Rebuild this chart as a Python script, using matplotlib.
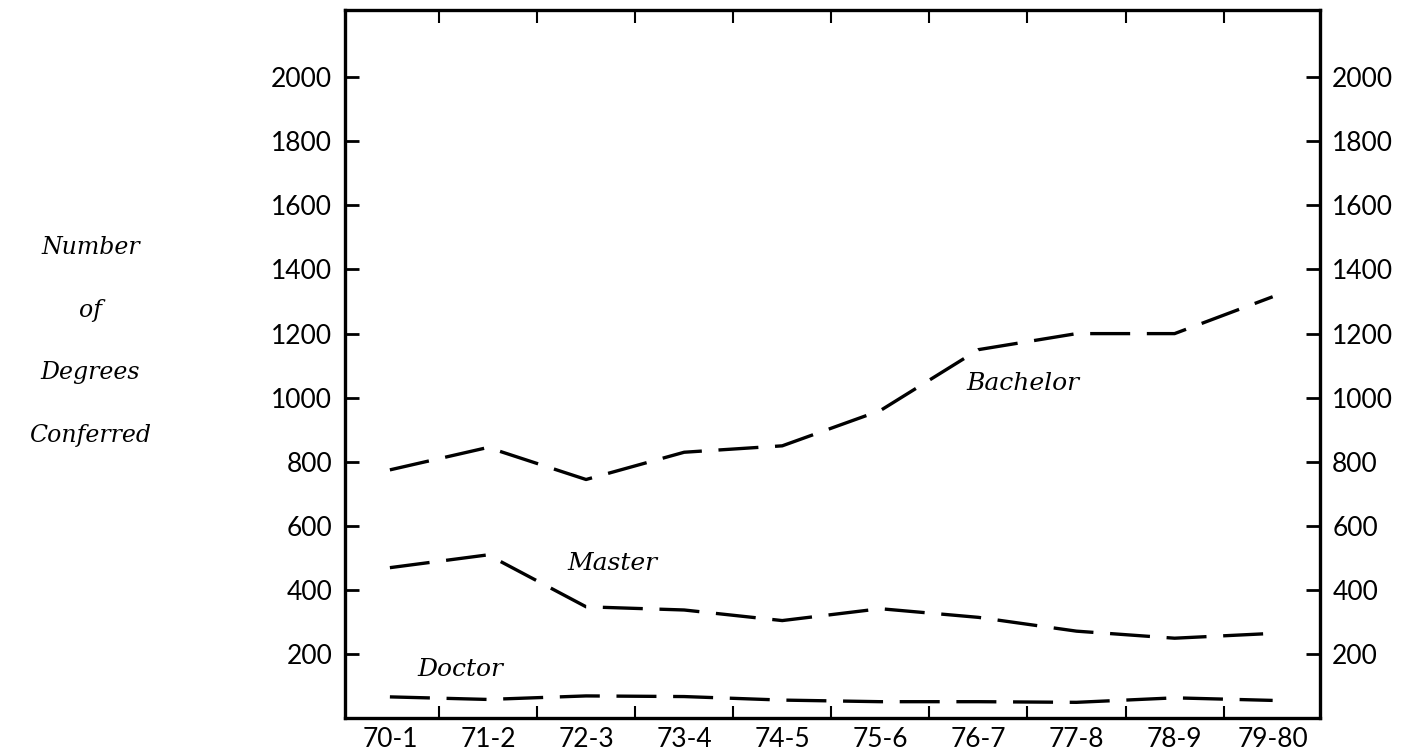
import numpy as np
import matplotlib.pyplot as plt

# 学位授与数 (読み取り値)
years = ['70-1', '71-2', '72-3', '73-4', '74-5', '75-6', '76-7', '77-8', '78-9', '79-80']
bachelor = [775, 845, 745, 830, 850, 960, 1150, 1200, 1200, 1315]
master = [470, 510, 348, 338, 305, 342, 315, 272, 250, 265]
doctor = [67, 59, 70, 68, 57, 52, 52, 50, 64, 56]
yticks = [200, 400, 600, 800, 1000, 1200, 1400, 1600, 1800, 2000]

fig = plt.figure(figsize=(14.13, 7.53), dpi=100)
ax = fig.add_axes([0.244, 0.046, 0.690, 0.941])
x = np.arange(len(years))

for vals in [bachelor, master, doctor]:
    ax.plot(x, vals, color='black', lw=2.4, dashes=(12, 5), solid_capstyle='butt')

ax.set_xlim(-0.46, 9.48)
ax.set_ylim(0, 2210)

for s in ax.spines.values():
    s.set_linewidth(2.4)

tickfont = {'family': 'Lato', 'size': 19}
ax.set_xticks(x)
ax.set_xticklabels(years, fontdict=tickfont)
ax.set_xticks(x[:-1] + 0.5, minor=True)
ax.tick_params(axis='x', which='major', length=0, pad=6)
ax.tick_params(axis='x', which='minor', direction='in', length=9, width=1.5, top=True, bottom=True)

ax.set_yticks(yticks)
ax.set_yticklabels([str(v) for v in yticks], fontdict=tickfont)
ax.tick_params(axis='y', direction='in', length=10, width=2, left=True, right=True,
               labelleft=True, labelright=True, pad=9)

# 系列ラベル
lab = {'family': 'DejaVu Serif', 'style': 'italic', 'size': 18}
ax.text(6.45, 1045, 'Bachelor', ha='center', va='center', **lab)
ax.text(2.27, 484, 'Master', ha='center', va='center', **lab)
ax.text(0.72, 153, 'Doctor', ha='center', va='center', **lab)

# 縦軸タイトル
ylab = dict(lab, size=17)
for i, w in enumerate(['Number', 'of', 'Degrees', 'Conferred']):
    fig.text(0.064, 1 - (248 + 62.5 * i) / 753, w, ha='center', va='center', **ylab)

plt.savefig('out.png', dpi=100)
